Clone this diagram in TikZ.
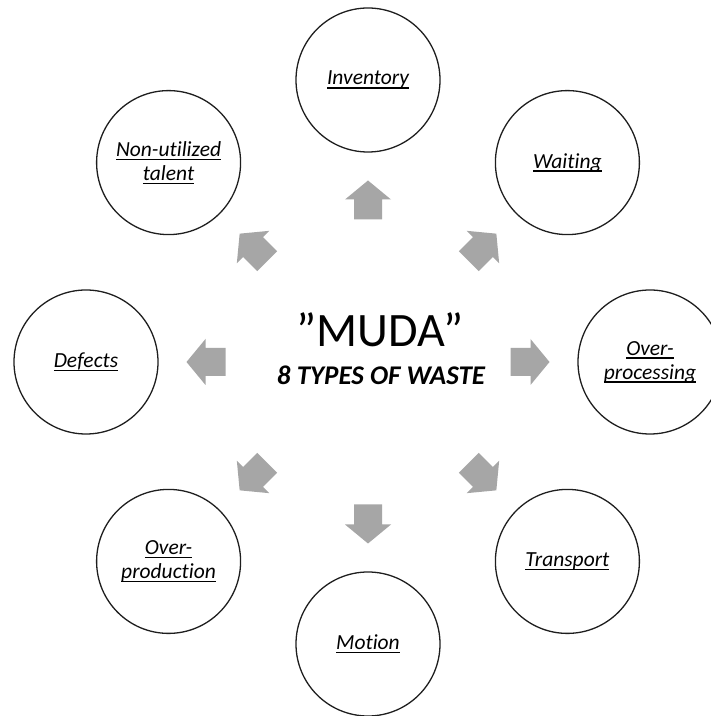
\documentclass[tikz,border=0pt]{standalone}
\usepackage{fontspec}
\setmainfont[Ligatures=NoCommon]{Carlito}
\definecolor{arrowgray}{HTML}{A6A6A6}
\definecolor{ringline}{HTML}{1E1E1E}
% underline at a fixed distance below the baseline
\newcommand\wasteul[1]{{\setbox0\hbox{#1}%
  \rlap{\vrule width\wd0 height -2.4pt depth 3.8pt}\box0}}
\tikzset{
  waste/.style={circle, draw=ringline, line width=1.3pt, minimum size=144pt,
    inner sep=0pt, align=center, fill=white,
    font=\itshape\fontsize{21.5}{24}\selectfont},
  blockarrow/.pic={
    \fill[arrowgray] (-19.5,-14) -- (0.5,-14) -- (0.5,-23) -- (19.5,0)
      -- (0.5,23) -- (0.5,14) -- (-19.5,14) -- cycle;
  }
}
\begin{document}
\begin{tikzpicture}[x=1pt, y=1pt]
\clip (0,0) rectangle (711,716);
\fill[white] (0,0) rectangle (711,716);
\coordinate (C) at (368,354);

% the eight wastes around the centre
\begin{scope}[shift={(C)}]
  \node[waste] (inventory)  at (90:282)   {\wasteul{Inventory}};
  \node[waste] (waiting)    at (45:282)   {\wasteul{Waiting}};
  \node[waste] (overproc)   at (0:282)    {\wasteul{Over-}\\\wasteul{processing}};
  \node[waste] (transport)  at (-45:282)  {\wasteul{Transport}};
  \node[waste] (motion)     at (-90:282)  {\wasteul{Motion}};
  \node[waste] (overprod)   at (-135:282) {\wasteul{Over-}\\\wasteul{production}};
  \node[waste] (defects)    at (180:282)  {\wasteul{Defects}};
  \node[waste] (talent)     at (135:282)  {\wasteul{Non-utilized}\\\wasteul{talent}};

  % outward block arrows
  \foreach \a in {90,45,0,-45,-90,-135,180,135}
    \pic[rotate=\a] at (\a:162) {blockarrow};
\end{scope}

% title in the middle
\node[anchor=base, inner sep=0pt, font=\fontsize{48}{48}\selectfont]
  (muda) at (380,369) {”MUDA”};
\node[anchor=base, inner sep=0pt, font=\bfseries\itshape\fontsize{27}{27}\selectfont]
  (types) at (381,331) {8 TYPES OF WASTE};
\end{tikzpicture}
\end{document}
